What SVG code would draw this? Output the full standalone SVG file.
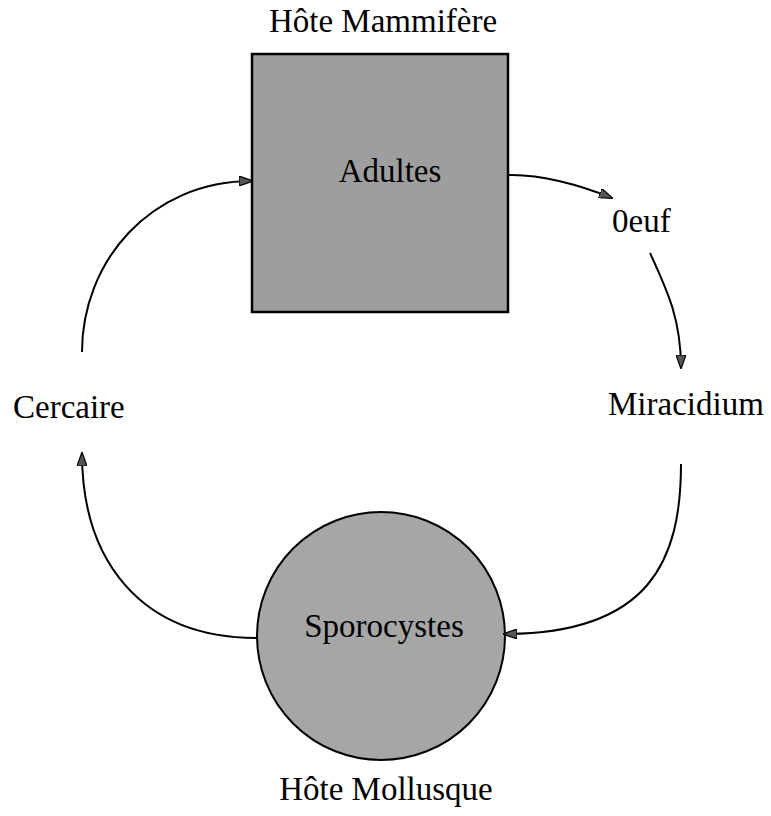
<svg xmlns="http://www.w3.org/2000/svg" width="771" height="816" viewBox="0 0 771 816">
<style>
text{font-family:"Liberation Serif","Times New Roman",serif;font-size:33px;fill:#000}
.c{text-anchor:middle}
.conn{fill:none;stroke:#000;stroke-width:2}
</style>
<defs>
<marker id="ah" viewBox="0 0 14 10" refX="13" refY="5" markerWidth="14" markerHeight="10" markerUnits="userSpaceOnUse" orient="auto">
<path d="M0,0 L14,5 L0,10 Z" fill="#555" stroke="#000" stroke-width="1.2"/>
</marker>
</defs>
<rect width="771" height="816" fill="#fff"/>
<text class="c" x="383" y="32">Hôte Mammifère</text>
<g id="adultes">
<rect x="252" y="54" width="256" height="258" fill="#9e9e9e" stroke="#000" stroke-width="2.5"/>
<text class="c" x="390" y="182">Adultes</text>
</g>
<g id="oeuf"><text x="612" y="232">0euf</text></g>
<g id="miracidium"><text x="608" y="415">Miracidium</text></g>
<g id="cercaire"><text x="13" y="418">Cercaire</text></g>
<g id="sporocystes">
<circle cx="381" cy="636" r="124" fill="#a6a6a6" stroke="#000" stroke-width="2"/>
<text class="c" x="384" y="637">Sporocystes</text>
</g>
<text class="c" x="386" y="800">Hôte Mollusque</text>
<g id="connectors">
<path class="conn" d="M508,175 C540,174 580,185 612,198" marker-end="url(#ah)"/>
<path class="conn" d="M650,253 C668,292 681,320 681,368" marker-end="url(#ah)"/>
<path class="conn" d="M681,464 C681,560 650,634 504,634" marker-end="url(#ah)"/>
<path class="conn" d="M257,638 C140,638 82,560 82,453" marker-end="url(#ah)"/>
<path class="conn" d="M82,352 C82,262 150,181 252,181" marker-end="url(#ah)"/>
</g>
</svg>
